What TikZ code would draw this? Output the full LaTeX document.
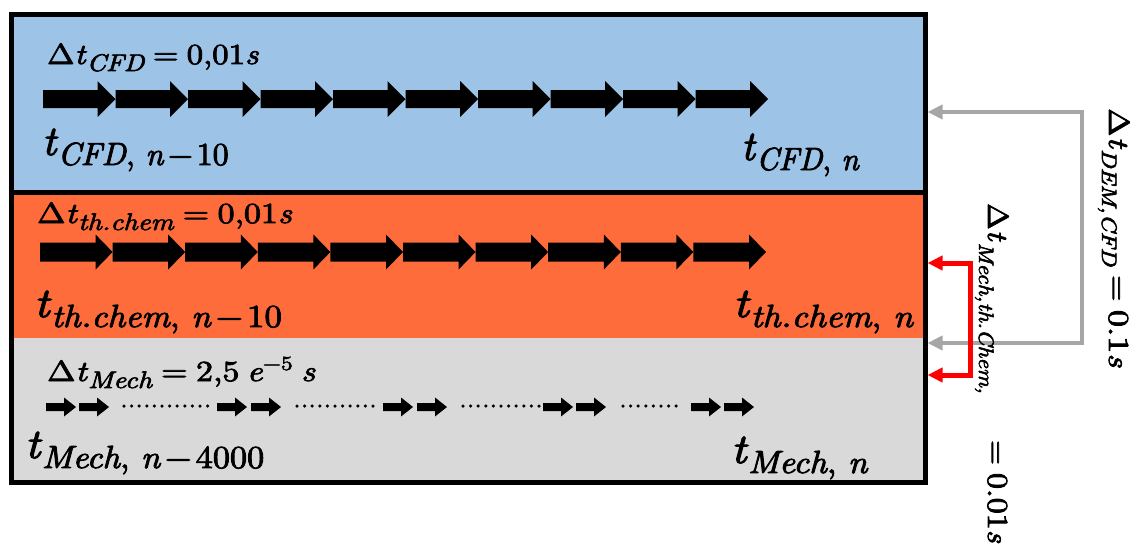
\documentclass[tikz,border=0pt]{standalone}
\usepackage{fontspec}
\usepackage{graphicx}
\usetikzlibrary{arrows.meta}
\newfontfamily\lf{lmroman10-regular.otf}[ItalicFont=lmroman10-italic.otf, FakeBold=2.6]
\definecolor{cfdblue}{HTML}{9DC3E6}
\definecolor{chemorange}{HTML}{FF6C3C}
\definecolor{mechgray}{HTML}{D9D9D9}
\definecolor{linkgray}{HTML}{A6A6A6}
\definecolor{linkred}{HTML}{FF0000}
\newcommand{\msz}{\lf\fontsize{29}{32}\selectfont}
\newcommand{\ssz}{\lf\fontsize{24}{26}\selectfont}
\newcommand{\rsz}{\lf\fontsize{21}{24}\selectfont}
\newcommand{\bsz}{\lf\fontsize{42}{46}\selectfont}
\newcommand{\bssz}{\lf\fontsize{32}{36}\selectfont}
\newcommand{\eqs}{\hspace{0.25em}=\hspace{0.25em}}
\newcommand{\mn}{\hspace{0.12em}−\hspace{0.12em}}
\newcommand{\barrow}[6]{\fill ({#1},{#2-#4}) -- ({#1+#3-#6},{#2-#4}) -- ({#1+#3-#6},{#2-#5}) -- ({#1+#3},{#2}) -- ({#1+#3-#6},{#2+#5}) -- ({#1+#3-#6},{#2+#4}) -- ({#1},{#2+#4}) -- cycle;}
\tikzset{
  lab/.style={inner sep=0pt, anchor=base west},
  band/.style={inner sep=0pt, anchor=north west, minimum width=913.5pt},
  dots/.style={line width=3.5pt, dash pattern=on 0pt off 7.6pt, line cap=round},
  graylink/.style={draw=linkgray, line width=4.5pt, {Triangle[length=15pt,width=14pt]}-{Triangle[length=15pt,width=14pt]}},
  redlink/.style={draw=linkred, line width=5pt, {Triangle[length=15pt,width=14pt]}-{Triangle[length=15pt,width=14pt]}},
}
\begin{document}
\begin{tikzpicture}[x=1pt,y=-1pt]
\useasboundingbox (0,0) rectangle (1132,550);
% bands
\node[band, fill=cfdblue, minimum height=177.5pt] (cfd) at (11.5,14.5) {};
\node[band, fill=chemorange, minimum height=146pt] (chem) at (11.5,192) {};
\node[band, fill=mechgray, minimum height=144pt] (mech) at (11.5,338) {};
\draw[line width=5pt] (cfd.south west) -- (cfd.south east);
\draw[line width=5pt] (cfd.north west) rectangle (mech.south east);
% CFD arrows
\foreach \i in {0,...,9} {\barrow{43+72.5*\i}{99}{72.5}{9}{18}{18}}
% chem arrows
\foreach \i in {0,...,9} {\barrow{40+72.6*\i}{252}{72.6}{9.5}{17.5}{17}}
% mech arrows
\foreach \s in {46,79,217,251,383,417,543,576,691,724} {\barrow{\s}{407}{30}{4}{9.5}{12}}
\draw[dots] (124,406) -- (214,406);
\draw[dots] (297,406) -- (377,406);
\draw[dots] (463,406) -- (539,406);
\draw[dots] (623,406) -- (683,406);
% connectors
\coordinate (gA) at (927.5,112);
\coordinate (gB) at (927.5,343);
\coordinate (rA) at (927.5,263);
\coordinate (rB) at (927.5,375);
\draw[graylink] (gA) -- ++(154.5,0) |- (gB);
\draw[redlink] (rA) -- ++(42.5,0) |- (rB);
% labels
\node[lab] (dcfd) at (47,64) {\scalebox{1.13}[1]{{\msz Δ\textit{t}}\raisebox{-7pt}{\ssz\textit{CFD}}{\msz\eqs 0,01\textit{s}}}};
\node[lab] (tcfd0) at (42,155) {\scalebox{1.0}[1]{{\bsz\textit{t}}\raisebox{-10pt}{\bssz\textit{CFD}, \textit{n}\mn 10}}};
\node[lab] (tcfdn) at (741,160) {\scalebox{0.97}[1]{{\bsz\textit{t}}\raisebox{-10pt}{\bssz\textit{CFD}, \textit{n}}}};
\node[lab] (dchem) at (37,223) {\scalebox{1.17}[1]{{\msz Δ\textit{t}}\raisebox{-7pt}{\ssz\textit{th.chem}}{\msz\eqs 0,01\textit{s}}}};
\node[lab] (tchem0) at (34,317) {\scalebox{1.09}[1]{{\bsz\textit{t}}\raisebox{-10pt}{\bssz\textit{th.chem}, \textit{n}\mn 10}}};
\node[lab] (tchemn) at (733,317) {\scalebox{1.11}[1]{{\bsz\textit{t}}\raisebox{-10pt}{\bssz\textit{th.chem}, \textit{n}}}};
\node[lab] (dmech) at (47,381) {\scalebox{1.17}[1]{{\msz Δ\textit{t}}\raisebox{-7pt}{\ssz\textit{Mech}}{\msz\eqs 2,5\hspace{0.22em}\textit{e}\raisebox{11pt}{\lf\fontsize{20}{22}\selectfont −5}\hspace{0.25em}\textit{s}}}};
\node[lab] (tmech0) at (25,458) {\scalebox{1.07}[1]{{\bsz\textit{t}}\raisebox{-10pt}{\bssz\textit{Mech}, \textit{n}\mn 4000}}};
\node[lab] (tmechn) at (731,463) {\scalebox{1.08}[1]{{\bsz\textit{t}}\raisebox{-10pt}{\bssz\textit{Mech}, \textit{n}}}};
\node[lab, rotate=-90] (ddem) at (1109,108) {\scalebox{1.17}[1]{{\msz Δ\textit{t}}\raisebox{-7pt}{\rsz\textit{DEM,CFD}}{\msz\eqs 0.1\textit{s}}}};
\node[lab, rotate=-90] (dmth) at (988,203) {\scalebox{1.1}[1]{{\msz Δ\textit{t}}\hspace{1pt}\raisebox{-9pt}{\rsz\textit{Mech,th.Chem,}}\hspace{42pt}{\msz=\hspace{0.25em}0.01\textit{s}}}};
\end{tikzpicture}
\end{document}
